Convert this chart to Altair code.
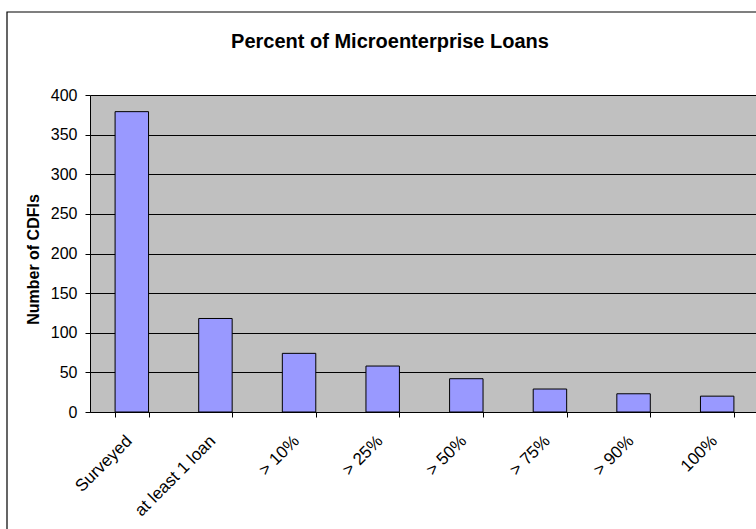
import altair as alt
import pandas as pd

categories = ["Surveyed", "at least 1 loan", "> 10%", "> 25%", "> 50%", "> 75%", "> 90%", "100%"]
counts = [379, 118, 74, 58, 42, 29, 23, 20]
y_ticks = [0, 50, 100, 150, 200, 250, 300, 350, 400]

df = pd.DataFrame({"category": categories, "count": counts})

FONT = "Liberation Sans"

bars = alt.Chart(df).mark_bar(
    color="#9999FF", stroke="black", strokeWidth=1
).encode(
    x=alt.X(
        "category:N",
        sort=categories,
        scale=alt.Scale(paddingInner=0.6, paddingOuter=0.3, range=[0, 669]),
        axis=alt.Axis(
            title=None,
            labelAngle=-45,
            labelAlign="right",
            labelBaseline="middle",
            labelFontSize=17,
            labelFont=FONT,
            labelColor="black",
            labelPadding=21,
            labelOffset=-3,
            tickBand="extent",
            tickSize=5,
            tickColor="black",
            domainColor="black",
            grid=False,
        ),
    ),
    y=alt.Y(
        "count:Q",
        scale=alt.Scale(domain=[0, 400], nice=False),
        axis=alt.Axis(
            title="Number of CDFIs",
            titleFont=FONT,
            titleFontSize=16,
            titleFontWeight="bold",
            titleColor="black",
            titlePadding=9,
            titleY=164,
            values=y_ticks,
            labelFontSize=16,
            labelFont=FONT,
            labelColor="black",
            labelPadding=8,
            tickSize=5,
            tickColor="black",
            domainColor="black",
            grid=True,
            gridColor="black",
            gridWidth=1,
        ),
    ),
)

border = alt.Chart(pd.DataFrame({"b": [0]})).mark_rect(
    fillOpacity=0, stroke="black", strokeWidth=1.2
).encode(
    x=alt.value(-83), x2=alt.value(700), y=alt.value(-83), y2=alt.value(450)
)

chart = alt.layer(border, bars).properties(
    width=666,
    height=317,
    autosize=alt.AutoSizeParams(type="none"),
    padding={"left": 90, "top": 95, "right": 0, "bottom": 117},
    title=alt.TitleParams(
        "Percent of Microenterprise Loans",
        font=FONT,
        fontSize=20,
        fontWeight="bold",
        color="black",
        anchor="middle",
        dx=-33,
        baseline="alphabetic",
        offset=-57,
    ),
).configure_view(
    fill="#C0C0C0", stroke="transparent"
)

chart.save("out.html", embed_options={"renderer": "svg", "actions": False})
